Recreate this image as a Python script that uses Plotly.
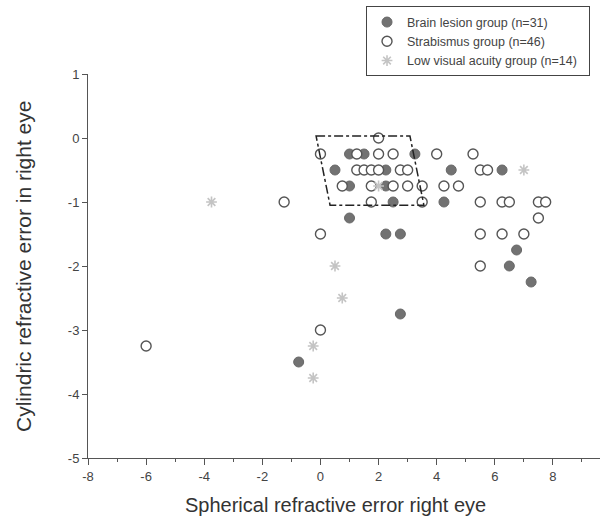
import plotly.graph_objects as go

# ---- data ----
brain_x = [1.0, 1.5, 3.25, 0.5, 2.25, 4.5, 6.25, 1.0, 2.25, 2.5, 4.25, 1.0,
           2.25, 2.75, 6.75, 6.5, 7.25, 2.75, -0.75]
brain_y = [-0.25, -0.25, -0.25, -0.5, -0.5, -0.5, -0.5, -0.75, -0.75, -1.0, -1.0, -1.25,
           -1.5, -1.5, -1.75, -2.0, -2.25, -2.75, -3.5]

strab_x = [2.0,
           0.0, 1.25, 2.0, 2.5, 4.0, 5.25,
           1.25, 1.5, 1.75, 2.0, 2.75, 3.0, 5.5, 5.75,
           0.75, 1.75, 2.5, 3.0, 3.5, 4.25, 4.75,
           -1.25, 1.75, 3.5, 5.5, 6.25, 6.5, 7.5, 7.75,
           7.5,
           0.0, 5.5, 6.25, 7.0,
           5.5,
           0.0,
           -6.0]
strab_y = [0.0,
           -0.25, -0.25, -0.25, -0.25, -0.25, -0.25,
           -0.5, -0.5, -0.5, -0.5, -0.5, -0.5, -0.5, -0.5,
           -0.75, -0.75, -0.75, -0.75, -0.75, -0.75, -0.75,
           -1.0, -1.0, -1.0, -1.0, -1.0, -1.0, -1.0, -1.0,
           -1.25,
           -1.5, -1.5, -1.5, -1.5,
           -2.0,
           -3.0,
           -3.25]

low_x = [7.0, 2.0, -3.75, 0.5, 0.75, -0.25, -0.25]
low_y = [-0.5, -0.75, -1.0, -2.0, -2.5, -3.25, -3.75]

series_names = ["Brain lesion group (n=31)", "Strabismus group (n=46)",
                "Low visual acuity group (n=14)"]

# dash-dot region outline (data units)
box_x = [-0.15, 3.08, 3.56, 0.33]
box_y = [0.03, 0.03, -1.05, -1.05]

x_ticks = [-8, -6, -4, -2, 0, 2, 4, 6, 8]
y_ticks = [1, 0, -1, -2, -3, -4, -5]

FONT = "Liberation Sans, Arial, sans-serif"

fig = go.Figure()
fig.add_trace(go.Scatter(
    x=brain_x, y=brain_y, mode="markers", name=series_names[0], legendrank=1,
    marker=dict(symbol="circle", size=10, color="#727272",
                line=dict(color="#686868", width=1))))
fig.add_trace(go.Scatter(
    x=strab_x, y=strab_y, mode="markers", name=series_names[1], legendrank=2,
    marker=dict(symbol="circle", size=10, color="white",
                line=dict(color="#555555", width=1.4))))
fig.add_trace(go.Scatter(
    x=low_x, y=low_y, mode="markers", name=series_names[2] + "&nbsp;" * 2, legendrank=3,
    marker=dict(symbol="asterisk-open", size=9, color="#c4c4c4",
                line=dict(color="#c4c4c4", width=1.6))))

path = "M " + " L ".join(f"{x},{y}" for x, y in zip(box_x, box_y)) + " Z"
fig.add_shape(type="path", path=path, xref="x", yref="y",
              line=dict(color="#222222", width=1.5, dash="dashdot"))

fig.update_layout(
    width=606, height=520,
    margin=dict(l=88, r=6, t=72, b=62),
    paper_bgcolor="white", plot_bgcolor="white",
    font=dict(family=FONT, color="#333333"),
    showlegend=True,
    legend=dict(x=0.543, y=1.176, xanchor="left", yanchor="top",
                bgcolor="white", bordercolor="#444444", borderwidth=1,
                font=dict(size=12.5, family=FONT, color="#444444"),
                itemwidth=30, tracegroupgap=0),
    xaxis=dict(range=[-8, 9.62], tickvals=x_ticks, ticktext=[str(v) for v in x_ticks],
               ticks="outside", ticklen=6,
               tickcolor="#555555", showline=True, linecolor="#555555", linewidth=1,
               showgrid=False, zeroline=False,
               tickfont=dict(size=13, color="#444444"),
               minor=dict(ticks="outside", ticklen=3, dtick=1, tickcolor="#555555",
                          showgrid=False)),
    yaxis=dict(range=[-5, 1], tickvals=y_ticks, ticktext=[str(v) for v in y_ticks],
               ticks="outside", ticklen=5,
               tickcolor="#555555", showline=True, linecolor="#555555", linewidth=1,
               showgrid=False, zeroline=False,
               tickfont=dict(size=13, color="#444444")),
)

fig.add_annotation(text="Spherical refractive error right eye", xref="paper", yref="paper",
                   x=0.484, y=-0.122, xanchor="center", yanchor="middle", showarrow=False,
                   font=dict(size=20, family=FONT, color="#333333"))
fig.add_annotation(text="Cylindric refractive error in right eye", xref="paper", yref="paper",
                   x=-0.127, y=0.5, xanchor="center", yanchor="middle", showarrow=False,
                   textangle=-90, font=dict(size=21, family=FONT, color="#333333"))

fig.write_html("out.html", config={"displayModeBar": False},
               post_script="document.body.style.margin='0px';")
